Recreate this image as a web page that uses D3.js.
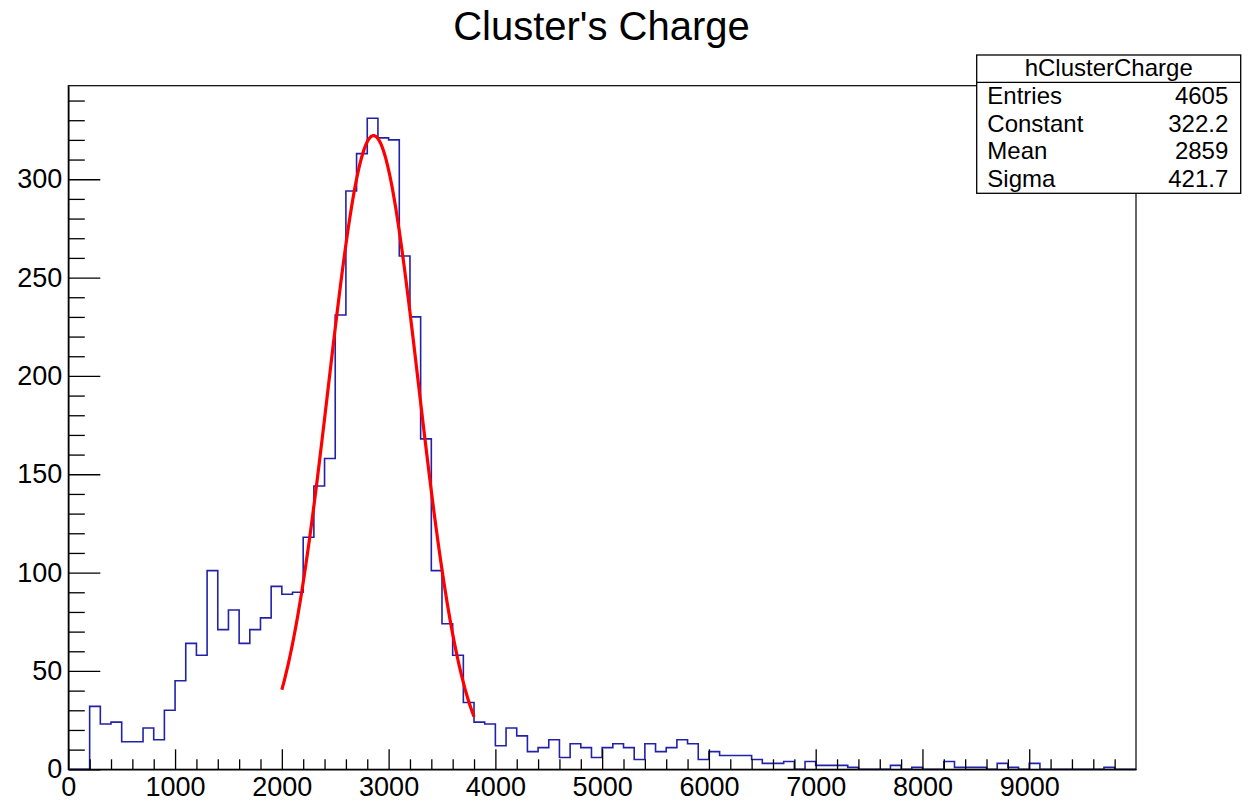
<!DOCTYPE html>
<html><head><meta charset="utf-8">
<script src="https://cdn.jsdelivr.net/npm/d3@7"></script>
<style>
body{margin:0;background:#fff;}
svg{display:block;}
text{font-family:"Liberation Sans",Arial,Helvetica,sans-serif;fill:#000;}
</style>
</head><body>
<svg id="chart" width="1250" height="802"></svg>
<script>
// ---------- data ----------
const chartTitle = "Cluster's Charge";
const histName = "hClusterCharge";
const xMin = 0, xMax = 10000, binWidth = 100;
// bin contents, one per 100-wide bin starting at 0
const counts = [
  0, 0, 32, 23, 24, 14, 14, 21, 15, 30,
  45, 64, 58, 101, 71, 81, 64, 71, 77, 93,
  89, 90, 118, 144, 158, 231, 294, 313, 331, 321,
  320, 261, 230, 168, 101, 74, 58, 34, 24, 23,
  12, 21, 17, 9, 11, 15, 6, 13, 11, 6,
  11, 13, 11, 5, 13, 9, 11, 15, 13, 5,
  9, 7, 7, 7, 5, 3, 3, 4, 0, 4,
  2, 2, 2, 1, 0, 0, 0, 2, 0, 1,
  0, 0, 4, 1, 1, 1, 0, 3, 1, 0,
  3, 0, 0, 0, 0, 0, 0, 1, 0, 0
];
const xMajorTicks = [0, 1000, 2000, 3000, 4000, 5000, 6000, 7000, 8000, 9000];
const xMinorStep = 200;
const yMajorTicks = [0, 50, 100, 150, 200, 250, 300];
const yMinorStep = 10;
const statLabels = ["Entries", "Constant", "Mean", "Sigma"];
const statValues = ["4605", "322.2", "2859", "421.7"];
// gaussian fit parameters (as shown in the stats box) and fit range
const fitConstant = 322.2, fitMean = 2859, fitSigma = 421.7;
const fitRange = [2000, 3800];

// ---------- layout ----------
const frame = {left: 68.3, right: 1136, top: 85.7, bottom: 769.3};
const svg = d3.select("#chart");
const yMax = d3.max(counts) * 1.05;
const x = d3.scaleLinear().domain([xMin, xMax]).range([frame.left, frame.right]);
const y = d3.scaleLinear().domain([0, yMax]).range([frame.bottom, frame.top]);

// histogram outline
const pts = counts.map((c, i) => [xMin + i * binWidth, c]);
pts.push([xMin + counts.length * binWidth, counts[counts.length - 1]]);
const histLine = d3.line().x(d => x(d[0])).y(d => y(d[1])).curve(d3.curveStepAfter);
svg.append("path").attr("d", histLine(pts))
  .attr("fill", "none").attr("stroke", "#2222a8").attr("stroke-width", 1.6);

// fit curve
const fitX = d3.range(0, 201).map(k => fitRange[0] + (fitRange[1] - fitRange[0]) * k / 200);
const fitPts = fitX.map(v => [v, fitConstant * Math.exp(-0.5 * Math.pow((v - fitMean) / fitSigma, 2))]);
svg.append("path").attr("d", d3.line().x(d => x(d[0])).y(d => y(d[1]))(fitPts))
  .attr("fill", "none").attr("stroke", "#ff0000").attr("stroke-width", 3.2);

// frame
svg.append("rect").attr("x", frame.left).attr("y", frame.top)
  .attr("width", frame.right - frame.left).attr("height", frame.bottom - frame.top)
  .attr("fill", "none").attr("stroke", "#000").attr("stroke-width", 1.2);

// x axis
const xMinor = d3.range(xMin, xMax + 1, xMinorStep).filter(v => xMajorTicks.indexOf(v) < 0 && v < xMax);
const gx = svg.append("g").attr("transform", `translate(0,${frame.bottom})`);
gx.call(d3.axisBottom(x).tickValues(xMinor).tickFormat("").tickSize(-10).tickSizeOuter(0));
gx.call(g => g.select(".domain").remove());
const gx2 = svg.append("g").attr("transform", `translate(0,${frame.bottom})`);
gx2.call(d3.axisBottom(x).tickValues(xMajorTicks).tickFormat(d3.format("d")).tickSize(-20).tickSizeOuter(0).tickPadding(0));
gx2.select(".domain").attr("stroke-width", 1.5);
gx2.selectAll("text").attr("font-size", 27).attr("font-family", "Liberation Sans, Arial, sans-serif")
  .attr("y", 27).attr("dy", null);

// y axis
const yMinor = d3.range(0, yMax, yMinorStep).filter(v => yMajorTicks.indexOf(v) < 0);
const gy = svg.append("g").attr("transform", `translate(${frame.left},0)`);
gy.call(d3.axisLeft(y).tickValues(yMinor).tickFormat("").tickSize(-16.5).tickSizeOuter(0));
gy.call(g => g.select(".domain").remove());
const gy2 = svg.append("g").attr("transform", `translate(${frame.left},0)`);
gy2.call(d3.axisLeft(y).tickValues(yMajorTicks).tickFormat(d3.format("d")).tickSize(-32).tickSizeOuter(0).tickPadding(6));
gy2.select(".domain").attr("stroke-width", 1.5);
gy2.selectAll("text").attr("font-size", 27).attr("font-family", "Liberation Sans, Arial, sans-serif");
svg.selectAll(".tick line").attr("stroke", "#000").attr("stroke-width", 1.3);

// title
svg.append("text").attr("x", 601.5).attr("y", 40).attr("text-anchor", "middle")
  .attr("font-size", 40).text(chartTitle);

// stats box
const box = {x: 976.7, y: 55, w: 264, h: 138.3, header: 27.3};
const sg = svg.append("g");
sg.append("rect").attr("x", box.x).attr("y", box.y).attr("width", box.w).attr("height", box.h)
  .attr("fill", "#fff").attr("stroke", "#000").attr("stroke-width", 1.3);
sg.append("line").attr("x1", box.x).attr("x2", box.x + box.w)
  .attr("y1", box.y + box.header).attr("y2", box.y + box.header)
  .attr("stroke", "#000").attr("stroke-width", 1.3);
sg.append("text").attr("x", box.x + box.w / 2).attr("y", box.y + 21).attr("text-anchor", "middle")
  .attr("font-size", 24).text(histName);
statLabels.forEach((lab, i) => {
  const yy = 104 + i * 27.5;
  sg.append("text").attr("x", box.x + 10.6).attr("y", yy).attr("font-size", 24).text(lab);
  sg.append("text").attr("x", box.x + box.w - 12.4).attr("y", yy).attr("text-anchor", "end")
    .attr("font-size", 24).text(statValues[i]);
});
</script>
</body></html>
